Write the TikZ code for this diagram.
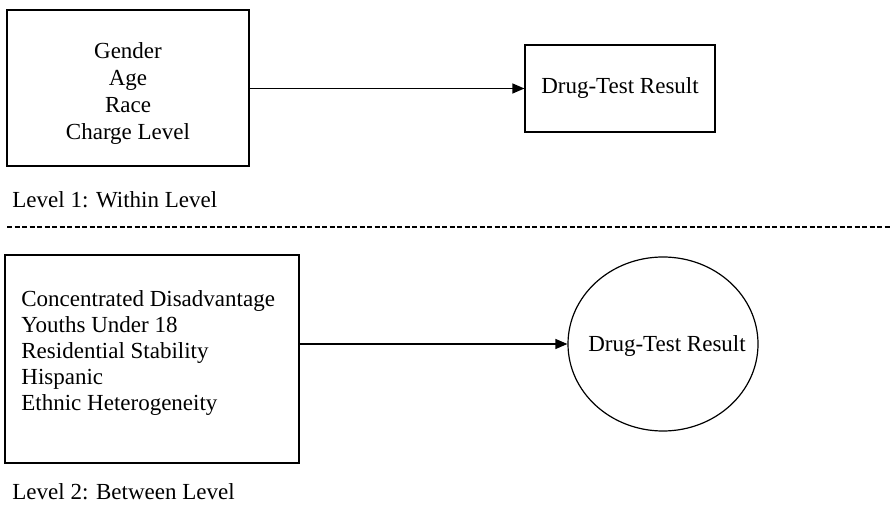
\documentclass[tikz,border=0pt]{standalone}
\usepackage{fontspec}
\setmainfont{Liberation Serif}
\usetikzlibrary{arrows.meta,shapes.geometric}
\begin{document}
\begin{tikzpicture}[x=0.5pt,y=-0.5pt,
  every node/.style={font=\fontsize{11.5}{13.5}\selectfont},
  boxed/.style={draw,line width=0.6pt,inner sep=0pt},
  conn/.style={line width=0.6pt,-{Triangle[length=6pt,width=5pt]}},
  lbl/.style={anchor=west,inner sep=0pt}]
\useasboundingbox (0,0) rectangle (892,506);
\node[boxed,minimum width=121pt,minimum height=78pt] (b1) at (128,88) {};
\node[align=center,inner sep=0pt] (t1) at (128,94) {Gender\\Age\\Race\\Charge Level};
\node[boxed,minimum width=95pt,minimum height=43.5pt] (r1) at (620,88.5) {Drug-Test Result};
\draw[conn] (b1.east |- r1.west) -- (r1.west);
\node[lbl] (l1) at (12,200) {Level 1: Within Level};
\coordinate (d0) at (7,227);
\coordinate (d1) at (892,227);
\draw[line width=0.6pt,dash pattern=on 2.5pt off 1.25pt] (d0) -- (d1);
\node[boxed,minimum width=147pt,minimum height=104pt] (b2) at (152,359) {};
\node[anchor=west,inner sep=0pt,align=left,font=\fontsize{11.5}{13}\selectfont] (t2) at (21,353)
  {Concentrated Disadvantage\\Youths Under 18\\Residential Stability\\Hispanic\\Ethnic Heterogeneity};
\node[draw,ellipse,line width=0.6pt,minimum width=95pt,minimum height=87pt,inner sep=0pt] (r2) at (663,344) {};
\node (r2t) at (667,346) {Drug-Test Result};
\draw[conn] (b2.east |- r2.west) -- (r2.west);
\node[lbl] (l2) at (12,492) {Level 2: Between Level};
\end{tikzpicture}
\end{document}
